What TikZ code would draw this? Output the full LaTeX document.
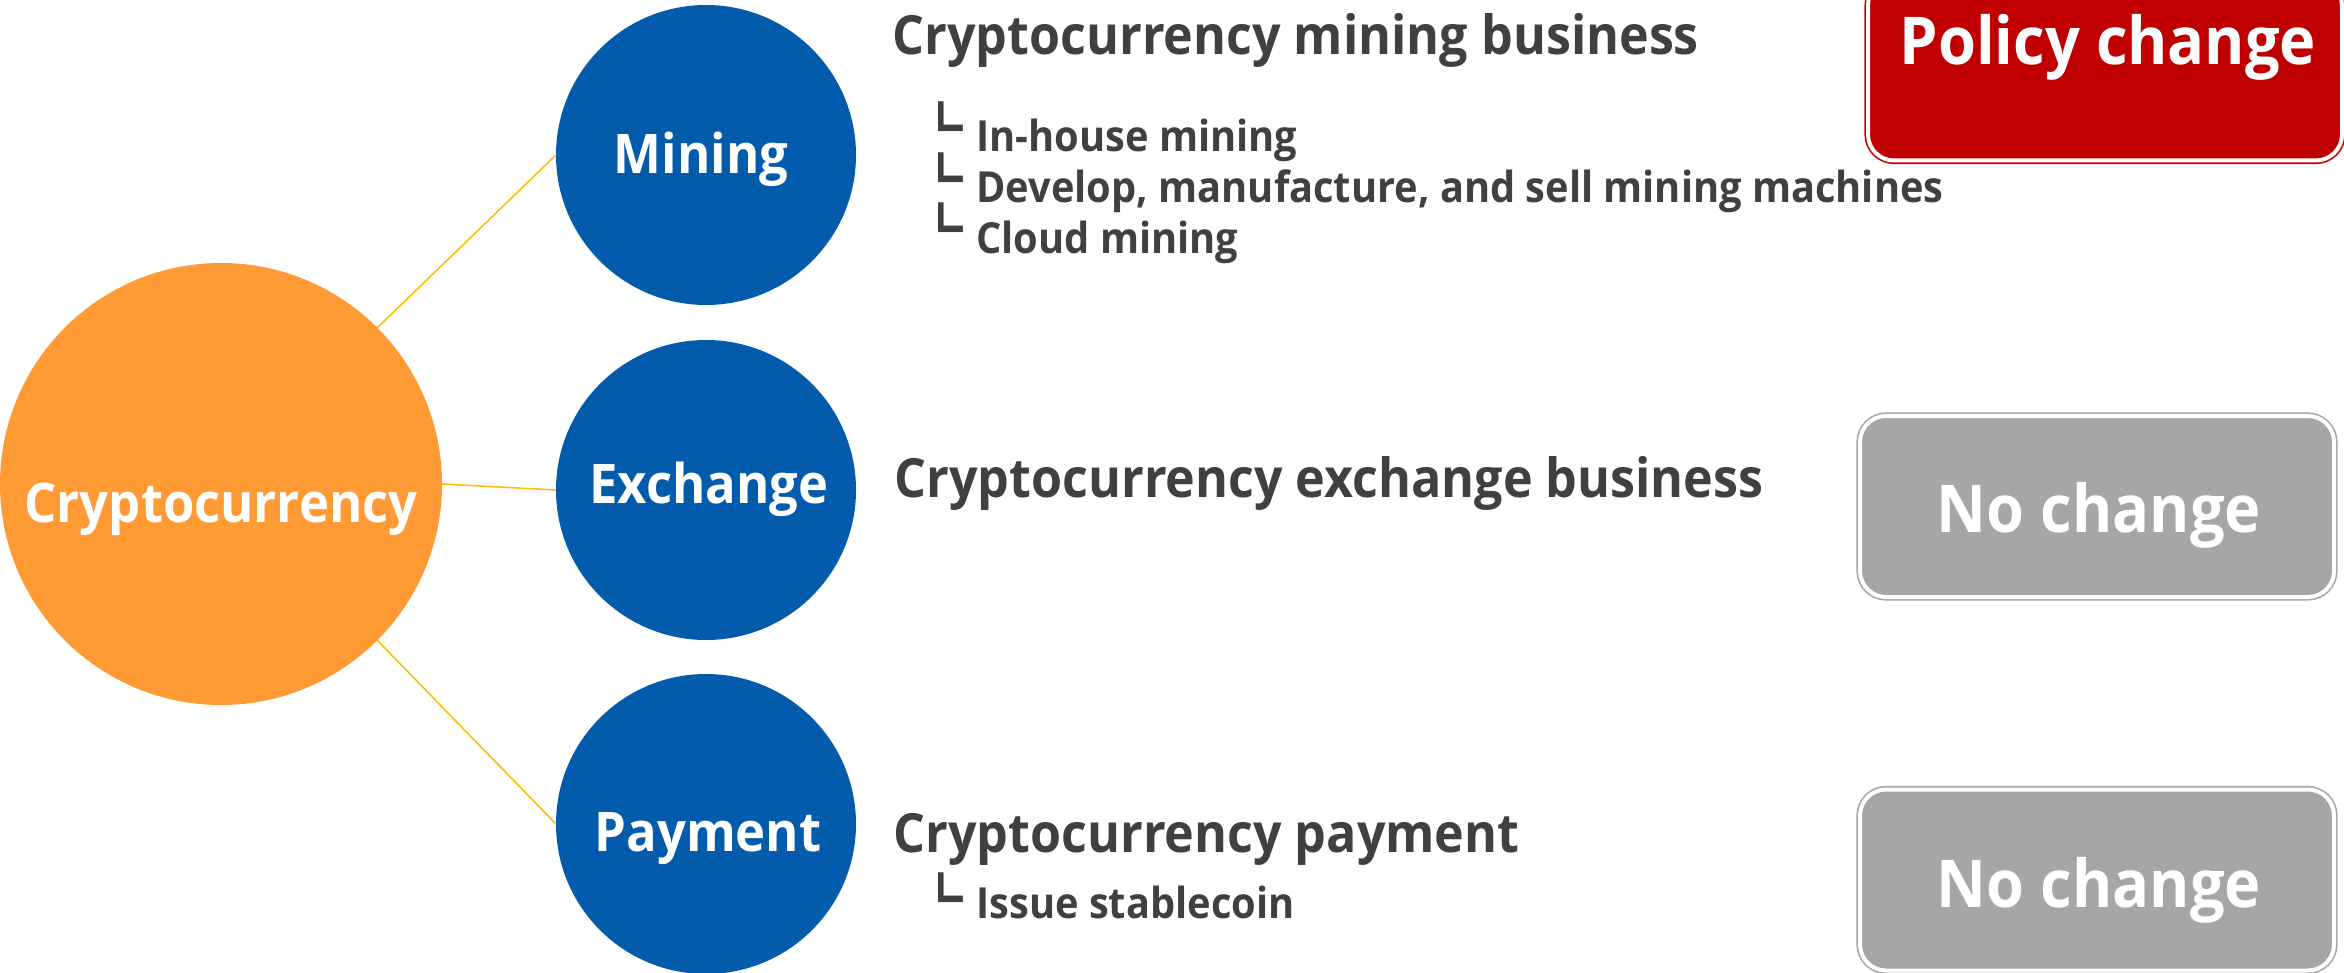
\documentclass[tikz,border=0pt]{standalone}
\usepackage{fontspec}
\setmainfont{Open Sans}[FakeStretch=0.93]
\newfontfamily\krfont{Noto Sans CJK KR Bold}

\definecolor{cOrange}{HTML}{FF9A35}
\definecolor{cBlue}{HTML}{035BAC}
\definecolor{cLine}{HTML}{FFC000}
\definecolor{cText}{HTML}{404040}
\definecolor{cRed}{HTML}{C00000}
\definecolor{cGray}{HTML}{A6A6A6}

% sub-item bullet: a Korean jamo stretched to the bullet's proportions,
% boxed tightly so that stacked bullets do not collide
\newcommand{\jamobullet}{\raisebox{0pt}[12pt][0pt]{\scalebox{0.95}[1.4]{ㄴ}}}

\tikzset{
  hub/.style={circle, fill=cOrange, minimum size=221pt, inner sep=0pt, outer sep=0pt},
  branch/.style={circle, fill=cBlue, minimum size=150pt, inner sep=0pt, outer sep=0pt},
  link/.style={draw=cLine, line width=0.8pt},
  circlabel/.style={anchor=base, text=white, inner sep=0pt, font=\fontsize{27.3}{32}\selectfont\bfseries},
  heading/.style={anchor=base west, text=cText, inner sep=0pt, font=\fontsize{27}{33}\selectfont\bfseries},
  subitem/.style={anchor=base west, text=cText, inner sep=0pt, font=\fontsize{21.4}{26}\selectfont\bfseries},
  marker/.style={anchor=base west, text=cText, inner sep=0pt, font=\krfont\fontsize{22}{26}\selectfont},
  statusbox/.style={rectangle, rounded corners=13pt, minimum width=237pt, minimum height=90.5pt,
    inner sep=0pt, line width=0.8pt, double=white, double distance=2pt},
  boxlabel/.style={anchor=base, text=white, inner sep=0pt, font=\fontsize{33}{40}\selectfont\bfseries},
}

\begin{document}
\begin{tikzpicture}[x=0.5pt, y=-0.5pt]
\useasboundingbox (0,0) rectangle (2344,973);
\clip (0,0) rectangle (2344,973);

% hub and branch circles
\node[hub] (crypto) at (221,484) {};
\node[branch] (mining) at (706,155) {};
\node[branch] (exchange) at (706,490) {};
\node[branch] (payment) at (706,824) {};

% connectors
\draw[link] (crypto.45) -- (mining.west);
\draw[link] (crypto.east) -- (exchange.west);
\draw[link] (crypto.-45) -- (payment.west);

% circle captions
\node[circlabel] (cryptoT) at (221,522) {Cryptocurrency};
\node[circlabel] (miningT) at (701,174) {Mining};
\node[circlabel] (exchangeT) at (709,503) {Exchange};
\node[circlabel] (paymentT) at (708,851) {Payment};

% business descriptions
\node[heading] (h1) at (892,55) {Cryptocurrency mining business};
\node[marker] (m1) at (931,141) {\jamobullet};
\node[subitem] (s1) at (976,152) {In-house mining};
\node[marker] (m2) at (931,192) {\jamobullet};
\node[subitem] (s2) at (976,203) {Develop, manufacture, and sell mining machines};
\node[marker] (m3) at (931,242) {\jamobullet};
\node[subitem] (s3) at (976,254) {Cloud mining};

\node[heading] (h2) at (894,497) {Cryptocurrency exchange business};

\node[heading] (h3) at (893,852) {Cryptocurrency payment};
\node[marker] (m4) at (931,911) {\jamobullet};
\node[subitem] (s4) at (976,918) {Issue stablecoin};

% policy status boxes
\node[statusbox, fill=cRed, draw=cRed] (policy) at (2105,70) {};
\node[boxlabel] (policyT) at (2108,65) {Policy change};
\node[statusbox, fill=cGray, draw=cGray] (nc1) at (2097,506.5) {};
\node[boxlabel] (nc1T) at (2099,532) {No change};
\node[statusbox, fill=cGray, draw=cGray] (nc2) at (2097,880) {};
\node[boxlabel] (nc2T) at (2099,907) {No change};
\end{tikzpicture}
\end{document}
